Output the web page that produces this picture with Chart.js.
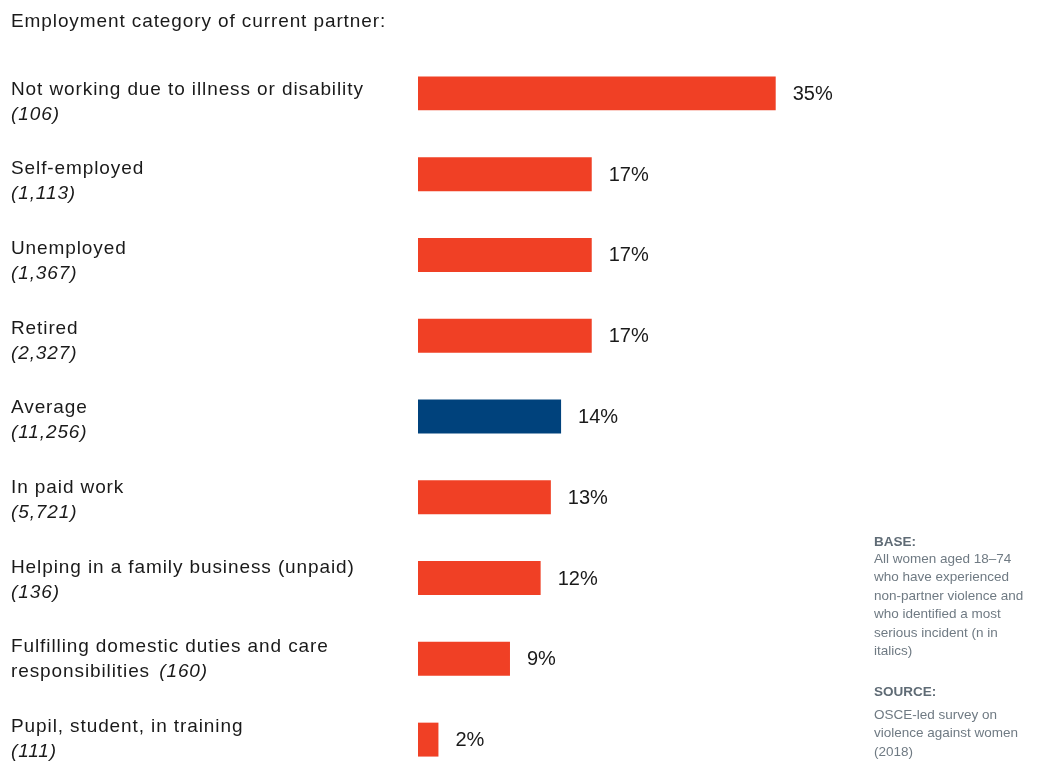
<!DOCTYPE html>
<html>
<head>
<meta charset="utf-8">
<script src="https://cdn.jsdelivr.net/npm/chart.js@4.4.0/dist/chart.umd.min.js"></script>
<style>
  html, body { margin: 0; padding: 0; background: #fff; }
  #wrap { position: relative; width: 1053px; height: 784px; }
</style>
</head>
<body>
<div id="wrap"><canvas id="partnerChart"></canvas></div>
<script>
// category labels: name line(s) and sample size (italic)
const categories = [
    ['Not working due to illness or disability'],
    ['Self-employed'],
    ['Unemployed'],
    ['Retired'],
    ['Average'],
    ['In paid work'],
    ['Helping in a family business (unpaid)'],
    ['Fulfilling domestic duties and care', 'responsibilities'],
    ['Pupil, student, in training']
];
const sampleSizes = ['(106)', '(1,113)', '(1,367)', '(2,327)', '(11,256)', '(5,721)', '(136)', '(160)', '(111)'];
const values = [35, 17, 17, 17, 14, 13, 12, 9, 2];

const RED = '#f04025';
const NAVY = '#00427c';
const barColors = categories.map(c => c[0] === 'Average' ? NAVY : RED);

const FONT = "'Liberation Sans', Arial, sans-serif";

// left-hand labels, value labels and the notes panel
const textPlugin = {
    id: 'textPlugin',
    afterDraw(chart) {
        const ctx = chart.ctx;
        const yScale = chart.scales.y;
        ctx.save();
        ctx.textBaseline = 'middle';
        ctx.fillStyle = '#1a1a1a';
        ctx.letterSpacing = '0.9px';
        ctx.font = '19px ' + FONT;
        ctx.fillText('Employment category of current partner:', 11, 22);

        categories.forEach((lines, i) => {
            const y0 = yScale.getPixelForValue(i) - 4 - i * 1.1;
            ctx.font = '19px ' + FONT;
            ctx.fillStyle = '#1a1a1a';
            ctx.fillText(lines[0], 11, y0);
            if (lines.length > 1) {
                ctx.fillText(lines[1], 11, y0 + 25);
                const w = ctx.measureText(lines[1] + ' ').width + 3;
                ctx.font = 'italic 19px ' + FONT;
                ctx.fillText(sampleSizes[i], 11 + w, y0 + 25);
            } else {
                ctx.font = 'italic 19px ' + FONT;
                ctx.fillText(sampleSizes[i], 11, y0 + 25);
            }
        });

        const meta = chart.getDatasetMeta(0);
        ctx.letterSpacing = '0px';
        ctx.font = '20px ' + FONT;
        ctx.fillStyle = '#1a1a1a';
        meta.data.forEach((bar, i) => {
            ctx.fillText(values[i] + '%', bar.x + 17, bar.y + 1);
        });

        // notes
        const nx = 874;
        ctx.fillStyle = '#5f6b75';
        ctx.font = 'bold 13.5px ' + FONT;
        ctx.fillText('BASE:', nx, 542);
        ctx.fillText('SOURCE:', nx, 692);
        ctx.fillStyle = '#6f7a83';
        ctx.font = '13.5px ' + FONT;
        const baseLines = ['All women aged 18\u201374', 'who have experienced', 'non-partner violence and',
            'who identified a most', 'serious incident (n in', 'italics)'];
        baseLines.forEach((t, k) => ctx.fillText(t, nx, 559 + k * 18.5));
        const srcLines = ['OSCE-led survey on', 'violence against women', '(2018)'];
        srcLines.forEach((t, k) => ctx.fillText(t, nx, 715 + k * 18.5));
        ctx.restore();
    }
};

const ctx = document.getElementById('partnerChart').getContext('2d');
const partnerChart = new Chart(ctx, {
    type: 'bar',
    data: {
        labels: categories.map(c => c.join(' ')),
        datasets: [{
            data: values,
            backgroundColor: barColors,
            borderWidth: 0,
            barPercentage: 0.42,
            categoryPercentage: 1
        }]
    },
    options: {
        indexAxis: 'y',
        responsive: true,
        maintainAspectRatio: false,
        animation: false,
        layout: {
            padding: { left: 418, right: 124, top: 53, bottom: 4 }
        },
        plugins: {
            legend: { display: false },
            tooltip: { enabled: false }
        },
        scales: {
            x: {
                min: 0,
                max: 50,
                display: false
            },
            y: {
                display: false
            }
        }
    },
    plugins: [textPlugin]
});
</script>
</body>
</html>
